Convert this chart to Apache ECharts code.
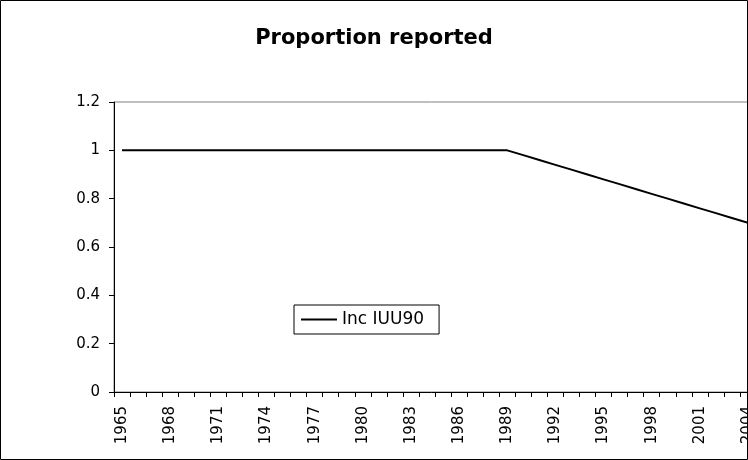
<!DOCTYPE html>
<html>
<head>
	<meta charset="utf-8">
	<title>Proportion reported</title>
	<script src="https://cdn.jsdelivr.net/npm/echarts@6/dist/echarts.min.js"></script>
	<style>
		html, body { margin: 0; padding: 0; background: #fff; }
	</style>
</head>
<body>
	<div id="main" style="width:748px;height:460px;"></div>
	<script type="text/javascript">
		// categories: years 1965 - 2004
		var years = ['1965','1966','1967','1968','1969','1970','1971','1972','1973','1974',
			'1975','1976','1977','1978','1979','1980','1981','1982','1983','1984',
			'1985','1986','1987','1988','1989','1990','1991','1992','1993','1994',
			'1995','1996','1997','1998','1999','2000','2001','2002','2003','2004'];
		// proportion reported
		var incIUU90 = [1, 1, 1, 1, 1, 1, 1, 1, 1, 1,
			1, 1, 1, 1, 1, 1, 1, 1, 1, 1,
			1, 1, 1, 1, 1, 0.98, 0.96, 0.94, 0.92, 0.90,
			0.88, 0.86, 0.84, 0.82, 0.80, 0.78, 0.76, 0.74, 0.72, 0.70];
		var seriesName = 'Inc IUU90';

		var myChart = echarts.init(document.getElementById('main'));
		var font = 'DejaVu Sans';

		var option = {
			animation: false,
			backgroundColor: '#fff',
			title: {
				text: 'Proportion reported',
				left: 'center',
				top: 23,
				textStyle: { fontFamily: font, fontSize: 21, fontWeight: 'bold', color: '#000' }
			},
			legend: {
				data: [{ name: seriesName, icon: 'rect' }],
				left: 294,
				top: 305,
				orient: 'horizontal',
				padding: [6, 15, 6, 7],
				borderColor: '#000',
				borderWidth: 1,
				itemWidth: 36,
				itemHeight: 2,
				itemGap: 5,
				itemStyle: { color: '#000' },
				textStyle: { fontFamily: font, fontSize: 17, color: '#000' }
			},
			graphic: [{
				type: 'rect',
				shape: { x: 0.5, y: 0.5, width: 747, height: 459 },
				style: { fill: 'none', stroke: '#000', lineWidth: 1 },
				silent: true
			}],
			grid: {
				left: 114,
				right: -8,
				top: 102,
				bottom: 68,
				show: true,
				borderColor: '#808080',
				borderWidth: 1,
				outerBoundsMode: 'none'
			},
			xAxis: {
				type: 'category',
				data: years,
				boundaryGap: true,
				axisLine: { show: true, lineStyle: { color: '#000', width: 1 } },
				axisTick: { show: true, interval: 0, length: 5, lineStyle: { color: '#000', width: 1 } },
				axisLabel: {
					interval: 2,
					rotate: 90,
					margin: 14,
					fontFamily: font,
					fontSize: 15,
					color: '#000'
				},
				splitLine: { show: false }
			},
			yAxis: {
				type: 'value',
				min: 0,
				max: 1.2,
				interval: 0.2,
				axisLine: { show: true, lineStyle: { color: '#000', width: 1 } },
				axisTick: { show: true, length: 5, lineStyle: { color: '#000' } },
				axisLabel: { margin: 14, fontFamily: font, fontSize: 15, color: '#000' },
				splitLine: { show: false }
			},
			series: [{
				name: seriesName,
				type: 'line',
				data: incIUU90,
				symbol: 'none',
				lineStyle: { color: '#000', width: 2 },
				itemStyle: { color: '#000' }
			}]
		};

		myChart.setOption(option);
	</script>
</body>
</html>
